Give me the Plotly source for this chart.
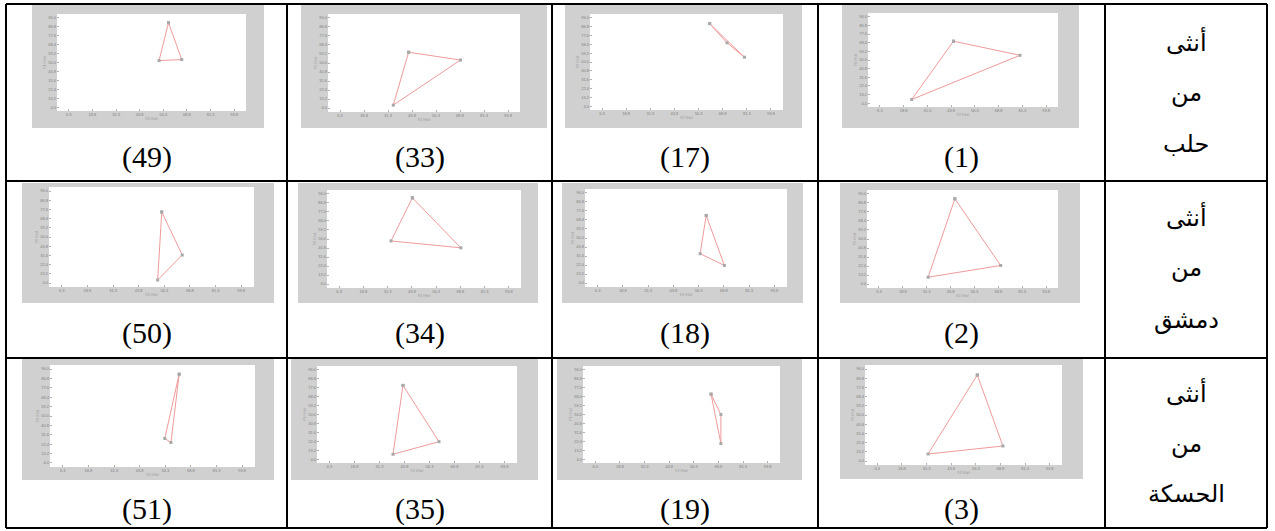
import plotly.graph_objects as go

W, H = 1275, 531

# ---------------- data (F2 on x, F1 on y; normalised axis units 0-100) ----------------
panel_ids = [49, 33, 17, 1, 50, 34, 18, 2, 51, 35, 19, 3]

f2_49 = [59, 66, 54]
f1_49 = [91, 53, 52]
f2_33 = [42, 69, 34]
f1_33 = [61, 53, 7]
f2_17 = [62, 71, 80]
f1_17 = [90, 70, 55]
f2_1 = [45, 80, 23]
f1_1 = [70, 55, 8]

f2_50 = [55, 65, 53]
f1_50 = [75, 32, 7]
f2_34 = [44, 69, 33]
f1_34 = [92, 41, 48]
f2_18 = [60, 69, 57]
f1_18 = [73, 22, 34]
f2_2 = [46, 70, 32]
f1_2 = [91, 23, 11]

f2_51 = [63, 59, 56]
f1_51 = [91, 24, 28]
f2_35 = [43, 61, 38]
f1_35 = [80, 22, 9]
f2_19 = [65, 70, 70]
f1_19 = [71, 50, 20]
f2_3 = [57, 70, 32]
f1_3 = [90, 19, 11]

series_x = [f2_49, f2_33, f2_17, f2_1, f2_50, f2_34, f2_18, f2_2, f2_51, f2_35, f2_19, f2_3]
series_y = [f1_49, f1_33, f1_17, f1_1, f1_50, f1_34, f1_18, f1_2, f1_51, f1_35, f1_19, f1_3]

row_labels = [["أنثى", "من", "حلب"], ["أنثى", "من", "دمشق"], ["أنثى", "من", "الحسكة"]]
x_title = "F2 (Hz)"
y_title = "F1 (Hz)"

# ---------------- layout geometry (pixels) ----------------
plot_px = [
    (57, 246, 14, 111), (328, 520, 14, 112), (590, 783, 14, 110), (868, 1058, 13, 107),
    (49, 254, 187, 287), (327, 521, 190, 288), (585, 787, 189, 287), (867, 1058, 190, 288),
    (50, 255, 365, 467), (317, 517, 366, 463), (583, 780, 366, 463), (865, 1062, 365, 465),
]
gray_px = [
    (32, 264, 5, 128), (301, 547, 5, 128), (565, 802, 5, 128), (842, 1079, 5, 128),
    (22, 274, 183, 303), (298, 538, 183, 303), (562, 803, 183, 303), (840, 1080, 183, 303),
    (22, 274, 359, 480), (291, 538, 359, 480), (557, 802, 359, 480), (840, 1083, 358, 479),
]
col_lines = [6, 287, 552, 818, 1105, 1267]
row_lines = [4, 181, 358, 528]
caption_y = [157, 333, 509]
arabic_y = [[42, 93, 144], [217, 268, 320], [393, 444, 494]]


def px(x):
    return x / W


def py(y):
    return 1 - y / H


fig = go.Figure()
shapes = []
annotations = []
layout_axes = {}

for i, (gx0, gx1, gy0, gy1) in enumerate(gray_px):
    shapes.append(dict(type="rect", xref="paper", yref="paper", x0=px(gx0), x1=px(gx1),
                       y0=py(gy1), y1=py(gy0), fillcolor="#d0d0d0", line=dict(width=0),
                       layer="below"))

for i, pid in enumerate(panel_ids):
    x0, x1, y0, y1 = plot_px[i]
    n = "" if i == 0 else str(i + 1)
    xs = series_x[i] + [series_x[i][0]]
    ys = series_y[i] + [series_y[i][0]]
    fig.add_trace(go.Scatter(
        x=xs, y=ys, mode="lines+markers", xaxis="x" + n, yaxis="y" + n,
        line=dict(color="#f09a9a", width=1),
        marker=dict(size=3, color="#a8a8a8", symbol="square"),
        showlegend=False, hoverinfo="skip"))
    tick_font = dict(size=4, color="#808080", family="Liberation Sans")
    layout_axes["xaxis" + n] = dict(
        domain=[px(x0), px(x1)], anchor="y" + n, range=[0, 100],
        tick0=6.25, dtick=12.5, ticks="inside", ticklen=2, tickcolor="#b0b0b0",
        tickfont=tick_font, showgrid=False, zeroline=False, showline=False,
        title=dict(text=x_title, font=dict(size=4, color="#909090"), standoff=1),
        fixedrange=True)
    layout_axes["yaxis" + n] = dict(
        domain=[py(y1), py(y0)], anchor="x" + n, range=[0, 100],
        tick0=4, dtick=9.2, tickformat=".1f", ticks="inside", ticklen=2,
        tickcolor="#b0b0b0", tickfont=tick_font, showgrid=False, zeroline=False,
        showline=False,
        title=dict(text=y_title, font=dict(size=4, color="#909090"), standoff=1),
        fixedrange=True)
    shapes.append(dict(type="rect", xref="paper", yref="paper", x0=px(x0), x1=px(x1),
                       y0=py(y1), y1=py(y0), fillcolor="white", line=dict(width=0),
                       layer="below"))
    r, c = divmod(i, 4)
    cx = (col_lines[c] + col_lines[c + 1]) / 2
    annotations.append(dict(text="(%d)" % pid, x=px(cx), y=py(caption_y[r]),
                            xref="paper", yref="paper", showarrow=False,
                            xanchor="center", yanchor="middle",
                            font=dict(family="Liberation Serif", size=30, color="black")))

acx = (col_lines[4] + col_lines[5]) / 2
for r, words in enumerate(row_labels):
    for k, w in enumerate(words):
        annotations.append(dict(text=w, x=px(acx), y=py(arabic_y[r][k]),
                                xref="paper", yref="paper", showarrow=False,
                                xanchor="center", yanchor="middle",
                                font=dict(family="DejaVu Sans", size=24, color="black")))

for xl in col_lines:
    shapes.append(dict(type="line", xref="paper", yref="paper", x0=px(xl), x1=px(xl),
                       y0=py(row_lines[-1]), y1=py(row_lines[0]),
                       line=dict(color="black", width=2)))
for yl in row_lines:
    shapes.append(dict(type="line", xref="paper", yref="paper", x0=px(col_lines[0]),
                       x1=px(col_lines[-1]), y0=py(yl), y1=py(yl),
                       line=dict(color="black", width=2)))

fig.update_layout(
    width=W, height=H, margin=dict(l=0, r=0, t=0, b=0),
    paper_bgcolor="white", plot_bgcolor="rgba(0,0,0,0)",
    shapes=shapes, annotations=annotations, **layout_axes)

fig.write_html("out.html", config={"displayModeBar": False},
               post_script="document.body.style.margin='0';document.body.style.overflow='hidden';")
